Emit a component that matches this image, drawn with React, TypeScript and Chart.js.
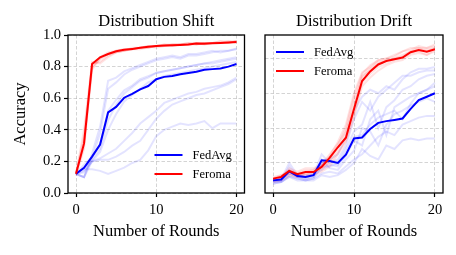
import React, { useEffect, useRef } from "react";
import { Chart, registerables } from "chart.js";

Chart.register(...registerables);

const FONT = "'Liberation Serif', 'Times New Roman', serif";

const rounds = [0, 1, 2, 3, 4, 5, 6, 7, 8, 9, 10, 11, 12, 13, 14, 15, 16, 17, 18, 19, 20];
const xTickValues = [0, 10, 20];
const shiftYTicks = [0, 0.2, 0.4, 0.6, 0.8, 1.0];
const driftYGrid = [0.2, 0.4, 0.6, 0.8];
const seriesNames = ["FedAvg", "Feroma"];
const panelTitles = ["Distribution Shift", "Distribution Drift"];
const xAxisLabel = "Number of Rounds";
const yAxisLabel = "Accuracy";

// ---- Distribution Shift ----
const shiftFedAvg = [0.122, 0.16, 0.23, 0.307, 0.51, 0.545, 0.603, 0.628, 0.656, 0.677, 0.72, 0.735, 0.741, 0.752, 0.76, 0.767, 0.78, 0.784, 0.788, 0.8, 0.816];
const shiftFeroma = [0.122, 0.314, 0.816, 0.859, 0.88, 0.897, 0.906, 0.912, 0.919, 0.925, 0.93, 0.933, 0.935, 0.937, 0.94, 0.946, 0.945, 0.947, 0.95, 0.952, 0.955];

const shiftClientA = [0.12, 0.1, 0.25, 0.42, 0.71, 0.73, 0.77, 0.79, 0.81, 0.83, 0.85, 0.86, 0.87, 0.86, 0.88, 0.88, 0.89, 0.9, 0.89, 0.9, 0.915];
const shiftClientB = [0.12, 0.1, 0.22, 0.38, 0.66, 0.7, 0.75, 0.78, 0.8, 0.82, 0.84, 0.85, 0.86, 0.85, 0.87, 0.87, 0.88, 0.89, 0.9, 0.9, 0.91];
const shiftClientC = [0.12, 0.16, 0.21, 0.28, 0.46, 0.56, 0.63, 0.67, 0.71, 0.73, 0.76, 0.77, 0.78, 0.79, 0.8, 0.81, 0.82, 0.83, 0.84, 0.85, 0.86];
const shiftClientD = [0.12, 0.18, 0.23, 0.31, 0.52, 0.59, 0.65, 0.68, 0.72, 0.74, 0.76, 0.77, 0.78, 0.79, 0.8, 0.81, 0.82, 0.82, 0.83, 0.84, 0.85];
const shiftClientE = [0.12, 0.14, 0.2, 0.26, 0.4, 0.5, 0.58, 0.62, 0.66, 0.7, 0.72, 0.74, 0.75, 0.76, 0.77, 0.78, 0.79, 0.8, 0.81, 0.82, 0.83];
const shiftClientF = [0.12, 0.13, 0.2, 0.21, 0.21, 0.23, 0.26, 0.3, 0.33, 0.4, 0.47, 0.52, 0.56, 0.58, 0.6, 0.62, 0.63, 0.65, 0.67, 0.69, 0.72];
const shiftClientG = [0.12, 0.1, 0.2, 0.22, 0.25, 0.28, 0.33, 0.38, 0.44, 0.48, 0.52, 0.57, 0.59, 0.61, 0.63, 0.64, 0.66, 0.67, 0.68, 0.7, 0.73];
const shiftClientH = [0.12, 0.15, 0.15, 0.14, 0.12, 0.14, 0.16, 0.19, 0.21, 0.27, 0.36, 0.4, 0.42, 0.44, 0.43, 0.44, 0.455, 0.41, 0.44, 0.44, 0.44];

const shiftFeromaClientA = [0.12, 0.3, 0.8, 0.85, 0.88, 0.9, 0.91, 0.91, 0.92, 0.92, 0.93, 0.93, 0.94, 0.94, 0.94, 0.95, 0.95, 0.95, 0.95, 0.95, 0.96];
const shiftFeromaClientB = [0.13, 0.36, 0.82, 0.83, 0.87, 0.89, 0.9, 0.92, 0.92, 0.93, 0.93, 0.94, 0.93, 0.94, 0.95, 0.94, 0.95, 0.95, 0.96, 0.96, 0.96];
const shiftFeromaClientC = [0.11, 0.28, 0.79, 0.86, 0.89, 0.9, 0.91, 0.91, 0.92, 0.93, 0.92, 0.93, 0.94, 0.94, 0.94, 0.95, 0.95, 0.95, 0.95, 0.96, 0.95];
const shiftFeromaClientD = [0.12, 0.4, 0.83, 0.82, 0.86, 0.89, 0.9, 0.91, 0.91, 0.92, 0.93, 0.93, 0.93, 0.94, 0.94, 0.94, 0.95, 0.95, 0.95, 0.95, 0.96];
const shiftFeromaClientE = [0.13, 0.33, 0.78, 0.85, 0.88, 0.89, 0.9, 0.91, 0.92, 0.92, 0.93, 0.94, 0.94, 0.94, 0.95, 0.95, 0.94, 0.95, 0.96, 0.95, 0.96];

// ---- Distribution Drift ----
const driftFedAvg = [0.1, 0.105, 0.152, 0.125, 0.12, 0.13, 0.215, 0.211, 0.2, 0.248, 0.34, 0.346, 0.395, 0.43, 0.44, 0.447, 0.455, 0.51, 0.56, 0.58, 0.6];
const driftFeroma = [0.11, 0.12, 0.154, 0.135, 0.148, 0.148, 0.177, 0.23, 0.29, 0.345, 0.51, 0.67, 0.725, 0.765, 0.785, 0.795, 0.805, 0.835, 0.848, 0.838, 0.852];

const driftClientA = [0.09, 0.1, 0.16, 0.12, 0.11, 0.12, 0.2, 0.22, 0.25, 0.35, 0.5, 0.58, 0.62, 0.6, 0.64, 0.62, 0.68, 0.72, 0.74, 0.74, 0.75];
const driftClientB = [0.1, 0.11, 0.2, 0.13, 0.12, 0.13, 0.25, 0.2, 0.22, 0.3, 0.45, 0.55, 0.5, 0.58, 0.62, 0.66, 0.7, 0.7, 0.72, 0.73, 0.73];
const driftClientC = [0.08, 0.09, 0.13, 0.11, 0.1, 0.11, 0.18, 0.18, 0.2, 0.28, 0.38, 0.42, 0.55, 0.4, 0.52, 0.56, 0.62, 0.64, 0.68, 0.7, 0.71];
const driftClientD = [0.09, 0.1, 0.14, 0.12, 0.12, 0.13, 0.16, 0.19, 0.18, 0.24, 0.33, 0.3, 0.45, 0.5, 0.36, 0.52, 0.55, 0.58, 0.6, 0.62, 0.64];
const driftClientE = [0.1, 0.1, 0.18, 0.12, 0.11, 0.12, 0.22, 0.17, 0.16, 0.22, 0.27, 0.4, 0.38, 0.3, 0.42, 0.48, 0.5, 0.53, 0.55, 0.57, 0.55];
const driftClientF = [0.09, 0.09, 0.12, 0.11, 0.1, 0.11, 0.14, 0.15, 0.14, 0.18, 0.22, 0.25, 0.3, 0.35, 0.38, 0.36, 0.42, 0.44, 0.46, 0.47, 0.47];
const driftClientG = [0.08, 0.09, 0.12, 0.1, 0.1, 0.1, 0.13, 0.12, 0.13, 0.16, 0.2, 0.28, 0.24, 0.22, 0.3, 0.28, 0.33, 0.34, 0.33, 0.34, 0.34];
const driftClientH = [0.1, 0.11, 0.15, 0.13, 0.13, 0.14, 0.19, 0.21, 0.19, 0.26, 0.35, 0.36, 0.42, 0.46, 0.48, 0.5, 0.45, 0.54, 0.6, 0.62, 0.66];

const driftFeromaClientA = [0.1, 0.11, 0.14, 0.12, 0.14, 0.15, 0.16, 0.21, 0.28, 0.37, 0.55, 0.69, 0.74, 0.78, 0.79, 0.8, 0.82, 0.84, 0.85, 0.85, 0.86];
const driftFeromaClientB = [0.11, 0.12, 0.16, 0.14, 0.16, 0.16, 0.18, 0.22, 0.3, 0.4, 0.58, 0.71, 0.76, 0.79, 0.8, 0.81, 0.84, 0.86, 0.86, 0.86, 0.87];
const driftFeromaClientC = [0.12, 0.13, 0.14, 0.13, 0.13, 0.14, 0.17, 0.2, 0.26, 0.33, 0.48, 0.66, 0.71, 0.75, 0.77, 0.79, 0.8, 0.83, 0.84, 0.82, 0.85];
const driftFeromaClientD = [0.1, 0.12, 0.17, 0.15, 0.17, 0.17, 0.19, 0.25, 0.31, 0.38, 0.52, 0.7, 0.73, 0.77, 0.79, 0.8, 0.81, 0.84, 0.86, 0.84, 0.86];
const driftFeromaClientE = [0.09, 0.1, 0.13, 0.12, 0.14, 0.13, 0.15, 0.18, 0.25, 0.32, 0.46, 0.64, 0.69, 0.73, 0.76, 0.78, 0.79, 0.82, 0.83, 0.82, 0.84];
const driftFeromaClientF = [0.11, 0.13, 0.15, 0.14, 0.15, 0.16, 0.19, 0.24, 0.32, 0.42, 0.6, 0.72, 0.75, 0.79, 0.8, 0.82, 0.84, 0.85, 0.87, 0.86, 0.88];

const BLUE = "#0000ff";
const RED = "#ff0000";
const FAINT_BLUE = "rgba(0,0,255,0.11)";
const FAINT_RED = "rgba(255,0,0,0.11)";
const GRID = "rgba(176,176,176,0.55)";

const toPts = (arr: number[]) => arr.map((y, i) => ({ x: rounds[i], y }));

const framePlugin = {
  id: "frameBox",
  afterDraw(chart: any) {
    const { ctx, chartArea } = chart;
    ctx.save();
    ctx.strokeStyle = "#000";
    ctx.lineWidth = 1.3;
    ctx.setLineDash([]);
    ctx.strokeRect(chartArea.left, chartArea.top, chartArea.right - chartArea.left, chartArea.bottom - chartArea.top);
    ctx.restore();
  },
};

const legendPlugin = {
  id: "miniLegend",
  afterDatasetsDraw(chart: any, _args: any, opts: any) {
    const { ctx, chartArea } = chart;
    const ax = opts.fromRight ? chartArea.right + opts.dx : chartArea.left + opts.dx;
    const ay = opts.fromBottom ? chartArea.bottom + opts.dy : chartArea.top + opts.dy;
    const items = [
      { text: seriesNames[0], color: BLUE },
      { text: seriesNames[1], color: RED },
    ];
    items.forEach((it, i) => {
      const y = ay + i * opts.rowGap;
      ctx.save();
      ctx.strokeStyle = it.color;
      ctx.lineWidth = 2;
      ctx.beginPath();
      ctx.moveTo(ax, y);
      ctx.lineTo(ax + opts.lineLen, y);
      ctx.stroke();
      ctx.fillStyle = "#000";
      ctx.font = `${opts.fontSize}px ${FONT}`;
      ctx.textBaseline = "middle";
      ctx.textAlign = "left";
      ctx.fillText(it.text, ax + opts.lineLen + opts.gap, y + 0.5);
      ctx.restore();
    });
  },
};

function makeConfig(p: any) {
  const datasets: any[] = [
    { label: seriesNames[1], data: toPts(p.feroma), borderColor: RED, borderWidth: 2 },
    { label: seriesNames[0], data: toPts(p.fedavg), borderColor: BLUE, borderWidth: 2 },
    ...p.redClients.map((a: number[]) => ({ label: "", data: toPts(a), borderColor: FAINT_RED, borderWidth: 2 })),
    ...p.blueClients.map((a: number[]) => ({ label: "", data: toPts(a), borderColor: FAINT_BLUE, borderWidth: 2 })),
  ].map((d) => ({ ...d, pointRadius: 0, tension: 0, fill: false }));

  return {
    type: "line",
    data: { datasets },
    plugins: [framePlugin, legendPlugin],
    options: {
      animation: false,
      responsive: false,
      devicePixelRatio: 1,
      layout: { padding: { left: 0, right: p.padRight, top: 0, bottom: 0 } },
      plugins: {
        legend: { display: false },
        tooltip: { enabled: false },
        title: {
          display: true,
          text: p.title,
          fullSize: false,
          color: "#000",
          font: { family: FONT, size: 16.5, weight: "normal", lineHeight: 1.2 },
          padding: { top: 12, bottom: 3.2 },
        },
        miniLegend: p.legend,
      },
      scales: {
        x: {
          type: "linear",
          min: -1,
          max: 21,
          afterBuildTicks: (s: any) => {
            s.ticks = xTickValues.map((v) => ({ value: v }));
          },
          afterFit: (s: any) => {
            s.height = 62;
          },
          ticks: {
            color: "#000",
            font: { family: FONT, size: 14.5 },
            padding: 4.3,
            maxRotation: 0,
            callback: (v: any) => String(v),
          },
          grid: { color: GRID, lineWidth: 1, tickColor: "#000", tickLength: 4, tickWidth: 1.2 },
          border: { display: false, dash: [3.5, 2] },
          title: {
            display: true,
            text: xAxisLabel,
            color: "#000",
            font: { family: FONT, size: 16.5, lineHeight: 1.2 },
            padding: { top: 0, bottom: 13.4 },
          },
        },
        y: {
          type: "linear",
          min: p.yMin,
          max: p.yMax,
          afterBuildTicks: (s: any) => {
            s.ticks = p.yTicks.map((v: number) => ({ value: v }));
          },
          afterFit: (s: any) => {
            s.width = p.yWidth;
          },
          ticks: {
            display: p.showY,
            color: "#000",
            font: { family: FONT, size: 14.5 },
            padding: 3,
            callback: (v: any) => Number(v).toFixed(1),
          },
          grid: {
            color: GRID,
            lineWidth: 1,
            tickColor: "#000",
            tickLength: 4,
            tickWidth: 1.2,
            drawTicks: p.showY,
          },
          border: { display: false, dash: [3.5, 2] },
          title: {
            display: p.showY,
            text: yAxisLabel,
            color: "#000",
            font: { family: FONT, size: 16.5, lineHeight: 1.2 },
            padding: { top: 10.5, bottom: 0 },
          },
        },
      },
    },
  };
}

function Panel({ left, width, config }: { left: number; width: number; config: any }) {
  const ref = useRef<HTMLCanvasElement>(null);
  useEffect(() => {
    const chart = new Chart(ref.current as HTMLCanvasElement, config);
    return () => chart.destroy();
  }, []);
  return (
    <canvas
      ref={ref}
      width={width}
      height={255}
      style={{ position: "absolute", left, top: 0, width, height: 255, display: "block" }}
    />
  );
}

export default function App() {
  const shiftConfig = makeConfig({
    title: panelTitles[0],
    fedavg: shiftFedAvg,
    feroma: shiftFeroma,
    blueClients: [shiftClientA, shiftClientB, shiftClientC, shiftClientD, shiftClientE, shiftClientF, shiftClientG, shiftClientH],
    redClients: [shiftFeromaClientA, shiftFeromaClientB, shiftFeromaClientC, shiftFeromaClientD, shiftFeromaClientE],
    yMin: 0,
    yMax: 1,
    yTicks: shiftYTicks,
    showY: true,
    yWidth: 68,
    padRight: 5.5,
    legend: { fromRight: true, fromBottom: true, dx: -90, dy: -38, rowGap: 19, lineLen: 28, gap: 10, fontSize: 12.5 },
  });
  const driftConfig = makeConfig({
    title: panelTitles[1],
    fedavg: driftFedAvg,
    feroma: driftFeroma,
    blueClients: [driftClientA, driftClientB, driftClientC, driftClientD, driftClientE, driftClientF, driftClientG, driftClientH],
    redClients: [driftFeromaClientA, driftFeromaClientB, driftFeromaClientC, driftFeromaClientD, driftFeromaClientE, driftFeromaClientF],
    yMin: 0.0276,
    yMax: 0.934,
    yTicks: driftYGrid,
    showY: false,
    yWidth: 15,
    padRight: 13,
    legend: { fromRight: false, fromBottom: false, dx: 11, dy: 17, rowGap: 19, lineLen: 28, gap: 10, fontSize: 12.5 },
  });
  return (
    <div style={{ position: "absolute", left: 0, top: 0, width: 456, height: 255, background: "#fff", overflow: "hidden" }}>
      <Panel left={0} width={250} config={shiftConfig} />
      <Panel left={250} width={206} config={driftConfig} />
    </div>
  );
}
